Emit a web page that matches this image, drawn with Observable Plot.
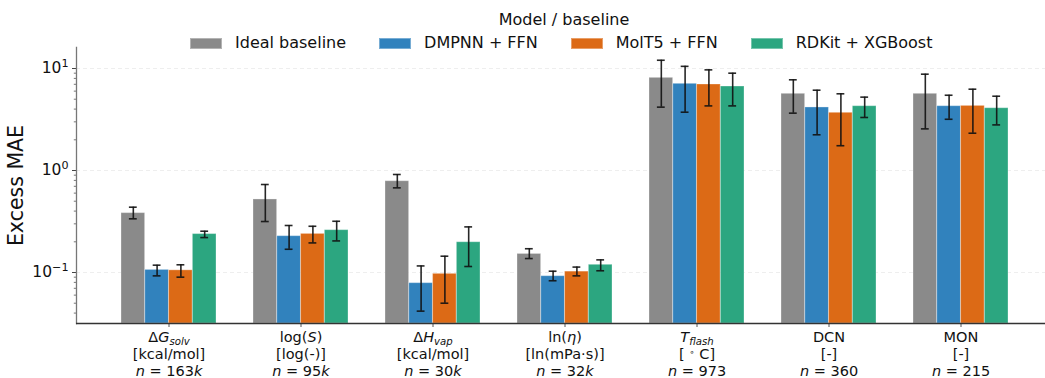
<!DOCTYPE html>
<html>
<head>
<meta charset="utf-8">
<script src="https://cdn.jsdelivr.net/npm/d3@7"></script>
<script src="https://cdn.jsdelivr.net/npm/@observablehq/plot@0.6"></script>
<style>
  body { margin: 0; background: #fff; font-family: "DejaVu Sans", sans-serif; }
  #wrap { position: relative; width: 1045px; height: 378px; }
  #legend { position: absolute; left: 0; top: 0; width: 1045px; z-index: 2; pointer-events: none; color: #111; font-size: 16px; line-height: 1; }
  #legend .title { position: absolute; top: 12px; left: 0; width: 1128px; text-align: center; }
  #legend .row { position: absolute; top: 35px; left: 190px; display: flex; align-items: center; white-space: nowrap; }
  #legend .item { display: flex; align-items: center; margin-right: 33px; }
  #legend .sw { width: 32px; height: 11px; margin-right: 13px; box-sizing: border-box; border: 1px solid rgba(255,255,255,0.35); }
  svg { position: absolute; left: 0; top: 0; }
</style>
</head>
<body>
<div id="wrap"><div id="legend"></div></div>
<script>
// ---------- data ----------
const categories = ["dGsolv", "logS", "dHvap", "lneta", "Tflash", "DCN", "MON"];
const line1 = ["Δ*G*_{*solv*}", "log(*S*)", "Δ*H*_{*vap*}", "ln(*η*)", "*T*_{*flash*}", "DCN", "MON"];
const line2 = ["[kcal/mol]", "[log(-)]", "[kcal/mol]", "[ln(mPa·s)]", "[ ^{∘} C]", "[-]", "[-]"];
const line3 = ["*n* = 163*k*", "*n* = 95*k*", "*n* = 30*k*", "*n* = 32*k*", "*n* = 973", "*n* = 360", "*n* = 215"];

const models = ["Ideal baseline", "DMPNN + FFN", "MolT5 + FFN", "RDKit + XGBoost"];
const colors = ["#8a8a8a", "#3182bd", "#dc6a16", "#2ca680"];

const idealMean = [0.382, 0.52, 0.785, 0.152, 8.1, 5.65, 5.65];
const idealLo   = [0.336, 0.316, 0.676, 0.137, 4.18, 3.65, 2.56];
const idealHi   = [0.437, 0.729, 0.914, 0.171, 12.05, 7.75, 8.8];

const dmpnnMean = [0.106, 0.227, 0.0786, 0.092, 7.08, 4.15, 4.27];
const dmpnnLo   = [0.0927, 0.169, 0.0418, 0.083, 3.73, 2.24, 3.18];
const dmpnnHi   = [0.118, 0.289, 0.116, 0.103, 10.5, 6.13, 5.47];

const molt5Mean = [0.105, 0.239, 0.097, 0.102, 6.97, 3.68, 4.3];
const molt5Lo   = [0.090, 0.195, 0.050, 0.0927, 4.3, 1.75, 2.32];
const molt5Hi   = [0.119, 0.284, 0.1445, 0.113, 9.7, 5.65, 6.27];

const rdkitMean = [0.238, 0.26, 0.198, 0.119, 6.66, 4.27, 4.08];
const rdkitLo   = [0.220, 0.204, 0.1145, 0.104, 4.3, 3.31, 2.8];
const rdkitHi   = [0.254, 0.318, 0.280, 0.133, 9.0, 5.24, 5.35];

const yMajorTicks = [0.1, 1, 10];
const yMinorTicks = [0.04,0.05,0.06,0.07,0.08,0.09, 0.2,0.3,0.4,0.5,0.6,0.7,0.8,0.9, 2,3,4,5,6,7,8,9];
const yDomain = [Math.pow(10, -1.5), Math.pow(10, 1.206)];

// ---------- build table ----------
const series = [
  [idealMean, idealLo, idealHi],
  [dmpnnMean, dmpnnLo, dmpnnHi],
  [molt5Mean, molt5Lo, molt5Hi],
  [rdkitMean, rdkitLo, rdkitHi]
];
const rows = [];
series.forEach(([m, lo, hi], mi) => {
  categories.forEach((c, ci) => rows.push({cat: c, model: models[mi], mi, v: m[ci], lo: lo[ci], hi: hi[ci]}));
});

// ---------- layout ----------
const W = 1045, H = 378;
const mL = 76, mR = 0, mT = 47, mB = 55;
const padIn = 0.28, padOut = 0.3057, align = 0.55;
const bw = d3.scaleBand().domain(categories).range([mL, W - mR]).paddingInner(padIn).paddingOuter(padOut).align(align).bandwidth();
const barW = bw / models.length;
const capW = 8;

const esc = s => s.replace(/&/g, "&amp;").replace(/</g, "&lt;");
function rich(s, size, supScale = 0.7, supShift = 0.42) {
  const segs = []; let it = false, mode = "n", buf = "";
  const flush = () => { if (buf) segs.push({t: buf, it, mode}); buf = ""; };
  for (let i = 0; i < s.length; i++) {
    const c = s[i];
    if (c === "*") { flush(); it = !it; }
    else if ((c === "_" || c === "^") && s[i + 1] === "{") { flush(); mode = c === "_" ? "sub" : "sup"; i++; }
    else if (c === "}" && mode !== "n") { flush(); mode = "n"; }
    else buf += c;
  }
  flush();
  return segs.map(g => {
    let a = "";
    if (g.it) a += ' font-style="italic"';
    if (g.mode === "sub") a += ` font-size="${(size * 0.7).toFixed(2)}" baseline-shift="${(-size * 0.2).toFixed(2)}"`;
    if (g.mode === "sup") a += ` font-size="${(size * supScale).toFixed(2)}" baseline-shift="${(size * supShift).toFixed(2)}"`;
    return `<tspan${a}>${esc(g.t)}</tspan>`;
  }).join("");
}

const fs = 14.5;
const fsY = 15.5;
const marks = [
  Plot.gridY(yMajorTicks, {stroke: "#d0d0d0", strokeOpacity: 0.45, strokeDasharray: "4,3", strokeWidth: 0.8}),
  ...models.map((m, mi) => Plot.barY(rows.filter(r => r.mi === mi), {
    x: "cat", y1: () => yDomain[0], y2: "v",
    fill: colors[mi], stroke: "white", strokeOpacity: 0.3, strokeWidth: 1,
    insetLeft: mi * barW, insetRight: (models.length - 1 - mi) * barW
  })),
  ...models.map((m, mi) => Plot.ruleX(rows.filter(r => r.mi === mi), {
    x: "cat", y1: "lo", y2: "hi", dx: (mi - 1.5) * barW,
    stroke: "#111", strokeOpacity: 0.9, strokeWidth: 1.6
  })),
  ...models.map((m, mi) => Plot.tickY(rows.filter(r => r.mi === mi), {
    x: "cat", y: "lo", dx: (mi - 1.5) * barW,
    insetLeft: bw / 2 - capW / 2, insetRight: bw / 2 - capW / 2,
    stroke: "#111", strokeOpacity: 0.9, strokeWidth: 1.6
  })),
  ...models.map((m, mi) => Plot.tickY(rows.filter(r => r.mi === mi), {
    x: "cat", y: "hi", dx: (mi - 1.5) * barW,
    insetLeft: bw / 2 - capW / 2, insetRight: bw / 2 - capW / 2,
    stroke: "#111", strokeOpacity: 0.9, strokeWidth: 1.6
  })),
  Plot.axisY({ticks: yMinorTicks, tickFormat: () => "", tickSize: 2.2, stroke: "#555", strokeWidth: 0.8, label: null}),
  Plot.axisY({ticks: yMajorTicks, tickFormat: d => "10^{" + String(Math.round(Math.log10(d))).replace("-", "−") + "}",
    tickSize: 4, tickPadding: 4, fontSize: fsY, stroke: "#444", label: null, fill: "#111"}),
  Plot.axisY({ticks: [], label: "Excess MAE", labelAnchor: "center", labelArrow: "none", labelOffset: 68, fontSize: 20.5, fill: "#111"}),
  Plot.axisX({tickFormat: d => { const i = categories.indexOf(d); return [line1[i], line2[i], line3[i]].join("\n"); },
    tickSize: 4, tickPadding: 2.5, fontSize: fs, lineHeight: 1.17, stroke: "#555", label: null, fill: "#111"}),
  Plot.frame({anchor: "left", stroke: "#777", strokeWidth: 1.3}),
  Plot.ruleY([yDomain[0]], {stroke: "#333", strokeWidth: 1.3})
];

const plot = Plot.plot({
  width: W, height: H,
  marginLeft: mL, marginRight: mR, marginTop: mT, marginBottom: mB,
  style: {fontFamily: "DejaVu Sans", background: "white", color: "#111", overflow: "visible"},
  x: {domain: categories, paddingInner: padIn, paddingOuter: padOut, align: align, label: null, axis: null},
  y: {type: "log", domain: yDomain, label: null, axis: null},
  marks
});

// rich text for tick labels
plot.querySelectorAll('[aria-label="x-axis tick label"] text').forEach(t => {
  const tsp = t.querySelectorAll("tspan");
  if (tsp.length) tsp.forEach(s => { s.innerHTML = rich(s.textContent, fs, 0.6, 0.3); });
  else t.innerHTML = rich(t.textContent, fs, 0.6, 0.3);
});
plot.querySelectorAll('[aria-label="y-axis tick label"] text').forEach(t => {
  if (t.textContent) t.innerHTML = rich(t.textContent, fsY, 0.72, 0.42);
});

document.getElementById("wrap").appendChild(plot);

// legend
const lg = document.getElementById("legend");
lg.innerHTML = `<div class="title">Model / baseline</div><div class="row">` +
  models.map((m, i) => `<div class="item"><div class="sw" style="background:${colors[i]}"></div><span>${m}</span></div>`).join("") +
  `</div>`;
</script>
</body>
</html>
